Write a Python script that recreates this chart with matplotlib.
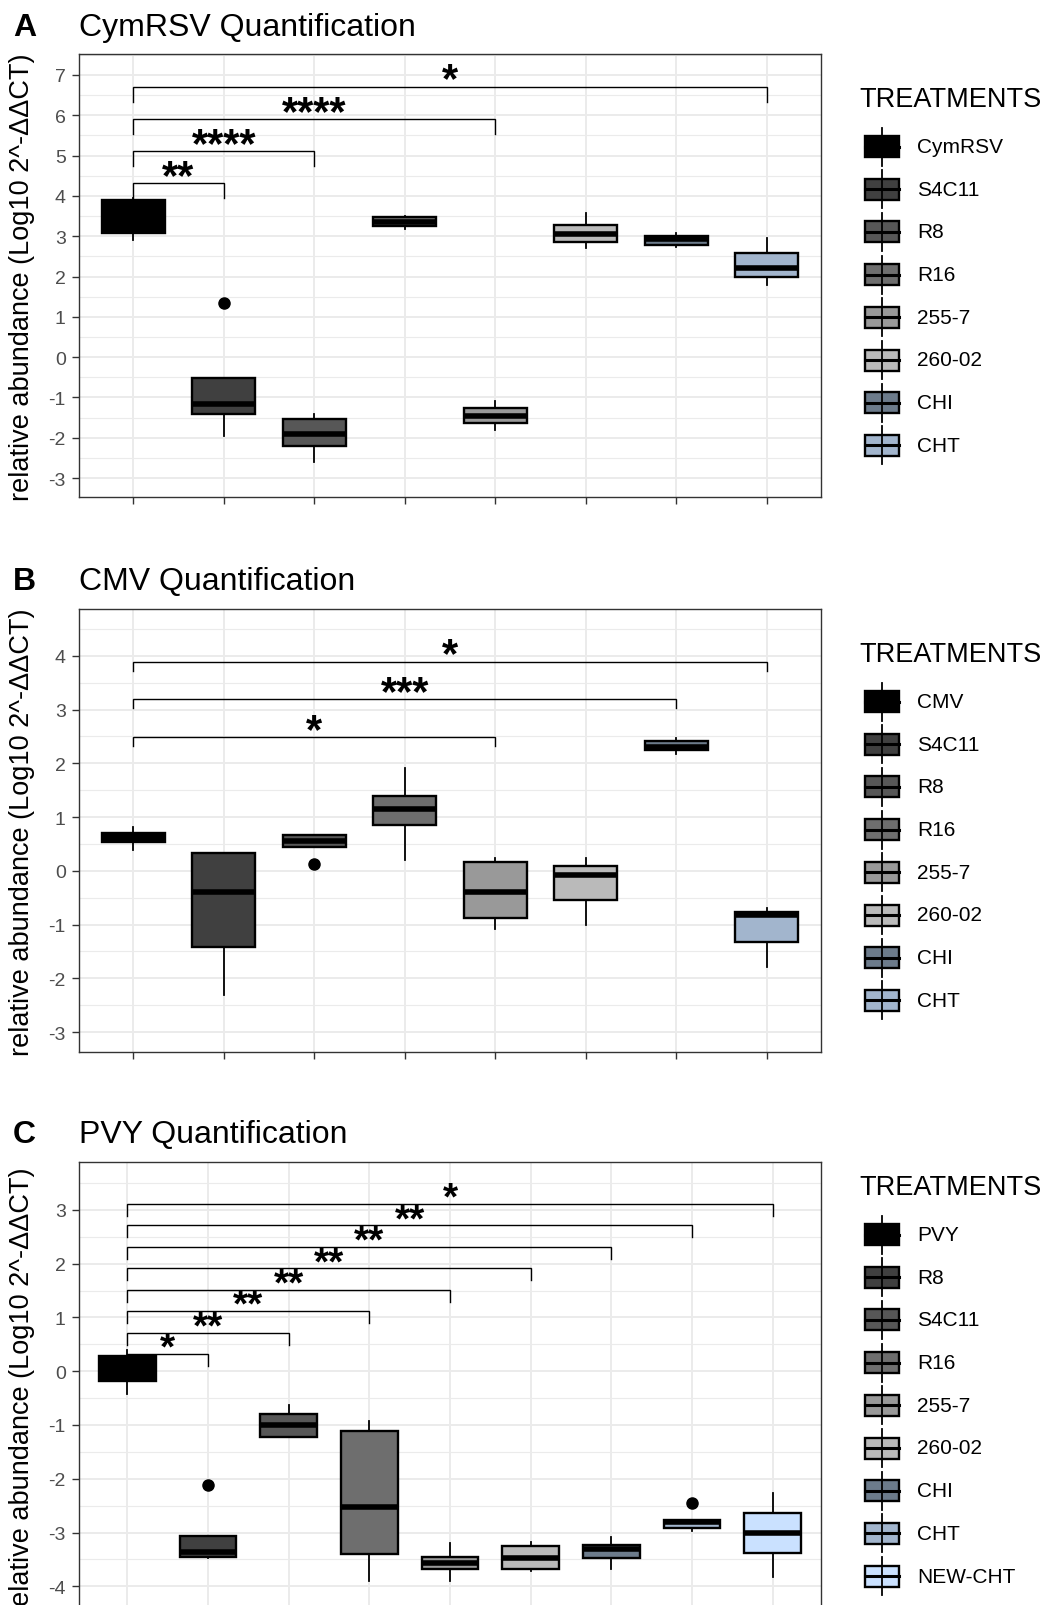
import matplotlib
matplotlib.use("Agg")
import matplotlib.pyplot as plt
from matplotlib.patches import Rectangle
from matplotlib.ticker import MultipleLocator

plt.rcParams["font.family"] = ["Liberation Sans", "DejaVu Sans"]
plt.rcParams["axes.unicode_minus"] = False

# ---- data: box statistics ----
# A: CymRSV
a_treat = ["CymRSV", "S4C11", "R8", "R16", "255-7", "260-02", "CHI", "CHT"]
a_lo = [2.91, -1.95, -2.61, 3.18, -1.80, 2.71, 2.72, 1.80]
a_q1 = [3.07, -1.41, -2.20, 3.25, -1.64, 2.86, 2.77, 2.00]
a_med = [3.45, -1.16, -1.91, 3.36, -1.45, 3.05, 2.93, 2.20]
a_q3 = [3.89, -0.52, -1.54, 3.47, -1.25, 3.28, 3.00, 2.58]
a_hi = [3.95, -0.52, -1.41, 3.51, -1.10, 3.58, 3.07, 2.96]
a_out = [[], [1.34], [], [], [], [], [], []]
a_pairs = [(1, 2), (1, 3), (1, 5), (1, 8)]
a_bar_y = [4.32, 5.11, 5.91, 6.71]
a_stars = ["**", "****", "****", "*"]

# B: CMV
b_treat = ["CMV", "S4C11", "R8", "R16", "255-7", "260-02", "CHI", "CHT"]
b_lo = [0.39, -2.31, 0.44, 0.21, -1.08, -1.00, 2.17, -1.78]
b_q1 = [0.53, -1.41, 0.44, 0.85, -0.87, -0.54, 2.24, -1.32]
b_med = [0.60, -0.39, 0.55, 1.15, -0.39, -0.08, 2.31, -0.82]
b_q3 = [0.70, 0.34, 0.66, 1.40, 0.17, 0.09, 2.41, -0.76]
b_hi = [0.82, 0.34, 0.66, 1.91, 0.23, 0.24, 2.47, -0.70]
b_out = [[], [], [0.13], [], [], [], [], []]
b_pairs = [(1, 5), (1, 7), (1, 8)]
b_bar_y = [2.49, 3.20, 3.89]
b_stars = ["*", "***", "*"]

# C: PVY
c_treat = ["PVY", "R8", "S4C11", "R16", "255-7", "260-02", "CHI", "CHT", "NEW-CHT"]
c_lo = [-0.43, -3.48, -1.23, -3.91, -3.91, -3.72, -3.68, -2.98, -3.82]
c_q1 = [-0.19, -3.45, -1.23, -3.40, -3.68, -3.67, -3.47, -2.91, -3.38]
c_med = [0.05, -3.37, -1.00, -2.52, -3.57, -3.47, -3.31, -2.81, -3.00]
c_q3 = [0.28, -3.06, -0.79, -1.12, -3.46, -3.26, -3.24, -2.77, -2.64]
c_hi = [0.40, -3.06, -0.62, -0.92, -3.20, -3.17, -3.08, -2.77, -2.27]
c_out = [[], [-2.11], [], [], [], [], [], [-2.46], []]
c_pairs = [(1, k) for k in range(2, 10)]
c_bar_y = [0.32, 0.71, 1.12, 1.51, 1.91, 2.31, 2.71, 3.11]
c_stars = ["*", "**", "**", "**", "**", "**", "**", "*"]

fills = ["#000000", "#404040", "#575757", "#6E6E6E", "#999999", "#BABABA",
         "#6C7B8B", "#A2B5CD", "#CAE1FF"]

W, H = 1047, 1606
fig = plt.figure(figsize=(W / 100, H / 100), dpi=100)

# overlay in pixel units for titles / legends
ov = fig.add_axes([0, 0, 1, 1])
ov.set_xlim(0, W)
ov.set_ylim(H, 0)
ov.axis("off")


def panel(top, bottom, ylim, yticks, lo, q1, med, q3, hi, out, pairs, bar_y, stars,
          tip, star_size):
    ax = fig.add_axes([79 / W, 1 - bottom / H, (821 - 79) / W, (bottom - top) / H])
    n = len(med)
    pos = list(range(1, n + 1))
    stats = [dict(whislo=lo[i], q1=q1[i], med=med[i], q3=q3[i], whishi=hi[i],
                  fliers=out[i]) for i in range(n)]
    bp = ax.bxp(stats, positions=pos, widths=0.7, patch_artist=True, showcaps=False,
                boxprops=dict(edgecolor="black", linewidth=1.7),
                medianprops=dict(color="black", linewidth=4),
                whiskerprops=dict(color="black", linewidth=1.3),
                flierprops=dict(marker="o", markerfacecolor="black",
                                markeredgecolor="black", markersize=8))
    for patch, c in zip(bp["boxes"], fills):
        patch.set_facecolor(c)
    for (i, j), y, s in zip(pairs, bar_y, stars):
        ax.plot([i, i, j, j], [y - tip, y, y, y - tip], color="black", lw=1.0,
                solid_joinstyle="miter")
        ax.annotate(s, xy=((i + j) / 2, y), xytext=(0, -3.5), textcoords="offset points",
                    ha="center", va="baseline", fontsize=star_size, fontweight="bold")
    ax.set_xlim(0.4, n + 0.6)
    ax.set_ylim(*ylim)
    ax.set_xticks(pos)
    ax.set_xticklabels([])
    ax.set_yticks(yticks)
    ax.yaxis.set_minor_locator(MultipleLocator(0.5))
    ax.set_axisbelow(True)
    ax.grid(which="major", color="#EBEBEB", lw=1.4)
    ax.grid(which="minor", axis="y", color="#EBEBEB", lw=0.8)
    ax.tick_params(which="major", length=5, width=1.0, color="#333333",
                   labelcolor="#4D4D4D", labelsize=14, pad=4.5)
    ax.tick_params(which="minor", length=0)
    for sp in ax.spines.values():
        sp.set_color("#333333")
        sp.set_linewidth(1.0)
    return ax


def header(letter, title, base):
    ov.text(13, base, letter, fontsize=23, fontweight="bold", va="baseline", ha="left")
    ov.text(79, base, title, fontsize=23, va="baseline", ha="left")


def legend(labels, title_base, first):
    ov.text(859, title_base, "TREATMENTS", fontsize=19.5, va="baseline", ha="left")
    for k, lab in enumerate(labels):
        y = first + k * 42.7
        ov.plot([882, 882], [y - 19, y + 19], color="black", lw=1.3)
        ov.add_patch(Rectangle((865, y - 10.5), 34, 21, facecolor=fills[k],
                               edgecolor="black", lw=1.7))
        ov.plot([865, 899], [y, y], color="black", lw=2.2)
        ov.text(917, y, lab, fontsize=15, va="center", ha="left")


def ylabel(center):
    ov.text(22, center, "relative abundance (Log10 2^-ΔΔCT)", fontsize=19.5,
            rotation=90, ha="center", va="center")


panel(55, 498, (-3.47, 7.52), range(-3, 8), a_lo, a_q1, a_med, a_q3, a_hi, a_out,
      a_pairs, a_bar_y, a_stars, 0.38, 30)
header("A", "CymRSV Quantification", 36)
legend(a_treat, 107, 147.5)
ylabel(277)

panel(610, 1053, (-3.37, 4.87), range(-3, 5), b_lo, b_q1, b_med, b_q3, b_hi, b_out,
      b_pairs, b_bar_y, b_stars, 0.17, 30)
header("B", "CMV Quantification", 590)
legend(b_treat, 662, 702.5)
ylabel(832)

panel(1163, 1619, (-4.59, 3.89), range(-4, 4), c_lo, c_q1, c_med, c_q3, c_hi, c_out,
      c_pairs, c_bar_y, c_stars, 0.22, 28)
header("C", "PVY Quantification", 1143)
legend(c_treat, 1195, 1235.5)
ylabel(1391)

fig.savefig("out.png", dpi=100)
